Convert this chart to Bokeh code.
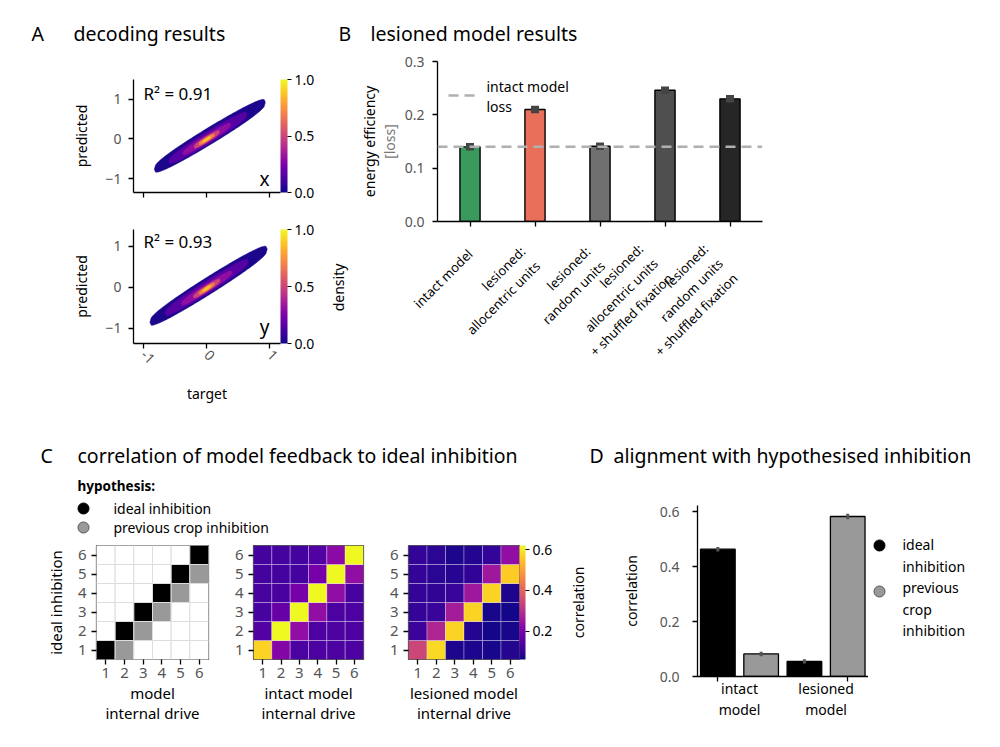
import numpy as np
from math import pi
from bokeh.plotting import figure
from bokeh.models import (Range1d, ColorBar, LinearColorMapper, FixedTicker, Span, LinearAxis,
                          PrintfTickFormatter, ColumnDataSource)
from bokeh.layouts import row, column
from bokeh.palettes import Plasma256
from bokeh.core.properties import value
from bokeh.embed import file_html
from bokeh.resources import INLINE

FONT = "Noto Sans"
TICK_GRAY = "#555555"
TITLE_SIZE = "19.5px"

# ====================== DATA ======================
# Panel A: decoding results (density contours, outer -> inner)
decode_names = ["x", "y"]
decode_r2 = ["R\u00b2 = 0.91", "R\u00b2 = 0.93"]
a_levels = [0.02, 0.15, 0.30, 0.50, 0.70, 0.88]
a_slope = [0.96, 0.96]
a_cx = [[0.05, 0.02, 0.0, 0.0, 0.0, 0.0], [0.03, 0.0, 0.0, 0.0, 0.0, 0.0]]
a_cy = [[0.08, 0.03, 0.0, -0.01, -0.01, -0.01], [0.04, 0.0, -0.02, -0.03, -0.03, -0.03]]
a_half_len = [[0.88, 0.62, 0.38, 0.20, 0.12, 0.06], [0.93, 0.66, 0.40, 0.21, 0.12, 0.06]]
a_half_thick = [[0.23, 0.17, 0.11, 0.08, 0.055, 0.034], [0.23, 0.17, 0.11, 0.08, 0.055, 0.034]]

# Panel B: lesioned model results
b_labels = [["intact model"],
            ["lesioned:", "allocentric units"],
            ["lesioned:", "random units"],
            ["lesioned:", "allocentric units", "+ shuffled fixation"],
            ["lesioned:", "random units", "+ shuffled fixation"]]
b_values = [0.140, 0.210, 0.141, 0.246, 0.230]
b_errors = [0.007, 0.007, 0.007, 0.007, 0.007]
b_colors = ["#3a9a5e", "#e8705a", "#707070", "#4f4f4f", "#262626"]
b_intact_loss = 0.140

# Panel C: correlation matrices; rows = ideal inhibition 1..6, columns = model internal drive 1..6
c_ticks = [1, 2, 3, 4, 5, 6]
hyp_matrix = [  # 2 = ideal inhibition, 1 = previous crop inhibition
    [2, 1, 0, 0, 0, 0],
    [0, 2, 1, 0, 0, 0],
    [0, 0, 2, 1, 0, 0],
    [0, 0, 0, 2, 1, 0],
    [0, 0, 0, 0, 2, 1],
    [0, 0, 0, 0, 0, 2],
]
intact_corr = [
    [0.57, 0.21, 0.13, 0.13, 0.13, 0.13],
    [0.14, 0.62, 0.23, 0.13, 0.13, 0.13],
    [0.125, 0.17, 0.62, 0.23, 0.13, 0.13],
    [0.125, 0.125, 0.19, 0.62, 0.23, 0.125],
    [0.12, 0.12, 0.12, 0.19, 0.62, 0.23],
    [0.12, 0.12, 0.12, 0.14, 0.22, 0.62],
]
lesioned_corr = [
    [0.34, 0.58, 0.075, 0.075, 0.07, 0.08],
    [0.11, 0.28, 0.57, 0.08, 0.065, 0.07],
    [0.10, 0.105, 0.26, 0.57, 0.07, 0.065],
    [0.10, 0.095, 0.105, 0.25, 0.57, 0.075],
    [0.10, 0.09, 0.085, 0.095, 0.25, 0.56],
    [0.10, 0.09, 0.075, 0.08, 0.10, 0.23],
]
c_low, c_high = 0.06, 0.62
hyp_colors = ["white", "#999999", "black"]

# Panel D: alignment with hypothesised inhibition
d_groups = ["intact\nmodel", "lesioned\nmodel"]
d_group_centers = [0.5, 2.5]
d_values = [0.463, 0.082, 0.055, 0.582]
d_errors = [0.008, 0.008, 0.008, 0.010]
d_colors = ["black", "#999999", "black", "#999999"]
d_hyp_labels = [["ideal", "inhibition"], ["previous", "crop", "inhibition"]]
d_hyp_colors = ["black", "#999999"]


# ====================== HELPERS ======================
class Geo:
    def __init__(self, canvas, frame, xr, yr):
        self.cl, self.ct, self.cr, self.cb = canvas
        self.fl, self.ft, self.fr, self.fb = frame
        self.xr, self.yr = xr, yr
        self.w = self.cr - self.cl
        self.h = self.cb - self.ct
        self.ml = self.fl - self.cl
        self.mr = self.cr - self.fr
        self.mt = self.ft - self.ct
        self.mb = self.cb - self.fb

    def x(self, px):
        return self.xr[0] + (px - self.fl) / (self.fr - self.fl) * (self.xr[1] - self.xr[0])

    def y(self, py):
        return self.yr[1] - (py - self.ft) / (self.fb - self.ft) * (self.yr[1] - self.yr[0])


def style_axis(ax, fs="14px"):
    ax.axis_line_color = "black"
    ax.axis_line_width = 1.3
    ax.major_tick_line_color = "black"
    ax.major_tick_line_width = 1.3
    ax.major_tick_in = 0
    ax.major_tick_out = 5
    ax.minor_tick_line_color = None
    ax.major_label_text_font = FONT
    ax.major_label_text_color = TICK_GRAY
    ax.major_label_text_font_size = fs
    ax.axis_label_text_font = FONT
    ax.axis_label_text_font_style = "normal"
    ax.axis_label_text_color = "black"
    ax.axis_label_text_font_size = "14px"


def make_fig(g):
    p = figure(width=g.w, height=g.h, x_range=Range1d(*g.xr), y_range=Range1d(*g.yr),
               output_backend="svg", toolbar_location=None,
               min_border_left=g.ml, min_border_right=g.mr, min_border_top=g.mt,
               min_border_bottom=g.mb)
    p.outline_line_color = None
    p.xgrid.visible = False
    p.ygrid.visible = False
    p.background_fill_color = "white"
    p.border_fill_color = "white"
    for ax in p.axis:
        style_axis(ax)
    return p


def blank_fig(canvas, frame=None):
    """A figure without axes whose data coordinates are page pixels (y downward)."""
    if frame is None:
        frame = canvas
    g = Geo(canvas, frame, (frame[0], frame[2]), (frame[1], frame[3]))
    p = figure(width=g.w, height=g.h, x_range=Range1d(frame[0], frame[2]),
               y_range=Range1d(frame[3], frame[1]),
               output_backend="svg", toolbar_location=None, x_axis_location=None,
               y_axis_location=None, min_border_left=g.ml, min_border_right=g.mr,
               min_border_top=g.mt, min_border_bottom=g.mb)
    p.outline_line_color = None
    p.grid.visible = False
    p.background_fill_color = "white"
    p.border_fill_color = "white"
    return p


def add_text(p, xs, ys, texts, size="14px", color="black", align="left", style="normal",
             angle=0.0, baseline="middle"):
    p.text(x=xs, y=ys, text=texts, text_font=value(FONT), text_font_size=size,
           text_color=color, text_align=align, text_baseline=baseline,
           text_font_style=style, angle=angle)


def gap_axis(p, gap):
    """Invisible right axis that only reserves `gap` pixels between frame and colour bar."""
    ax = LinearAxis(ticker=FixedTicker(ticks=[]), axis_line_color=None,
                    major_tick_line_color=None, minor_tick_line_color=None,
                    major_tick_in=0, major_tick_out=gap, minor_tick_out=0, minor_tick_in=0,
                    major_label_text_font_size="0px", major_label_standoff=0)
    p.add_layout(ax, "right")


# approximate advance widths (em) of Noto Sans, used to right-align lines of the B tick labels
CHAR_W = {" ": 0.26, "+": 0.572, ":": 0.258, "a": 0.561, "c": 0.48, "d": 0.615, "e": 0.564,
          "f": 0.344, "h": 0.618, "i": 0.258, "l": 0.258, "m": 0.938, "n": 0.618, "o": 0.605,
          "r": 0.413, "s": 0.479, "t": 0.361, "u": 0.618, "x": 0.524}


def right_aligned(lines):
    widths = [sum(CHAR_W.get(c, 0.55) for c in ln) for ln in lines]
    wmax = max(widths)
    trail = "\u00a0" * (2 * (len(lines) - 1))
    out = []
    for ln, w in zip(lines, widths):
        out.append("\u00a0" * int(round((wmax - w) / CHAR_W[" "])) + ln + trail)
    return "\n".join(out)


RIGHT = 990
BOTTOM = 744

# ====================== TITLES (top) ======================
pTop = blank_fig((0, 0, RIGHT, 50))
add_text(pTop, [31, 73, 338, 370], [33, 33, 33, 33],
         ["A", "decoding results", "B", "lesioned model results"], size=TITLE_SIZE)

# ====================== PANEL A ======================
plasma_mapper = LinearColorMapper(palette=Plasma256, low=0, high=1)

gA = [Geo((0, 50, 330, 210), (133, 79, 280, 192), (-1.16, 1.17), (-1.35, 1.5)),
      Geo((0, 210, 330, 420), (133, 229, 280, 343), (-1.16, 1.17), (-1.37, 1.41))]
figsA = []
for k in range(2):
    g = gA[k]
    p = make_fig(g)
    xs, ys = [], []
    t = np.linspace(-1, 1, 90)
    for i in range(len(a_levels)):
        cx, cy = a_cx[k][i], a_cy[k][i]
        L, h, m = a_half_len[k][i], a_half_thick[k][i], a_slope[k]
        px = cx + L * t
        mid = cy + m * L * t
        prof = h * np.clip(1 - t ** 2, 0, 1) ** 0.3
        xs.append(np.concatenate([px, px[::-1]]).tolist())
        ys.append(np.concatenate([mid + prof, (mid - prof)[::-1]]).tolist())
    src = ColumnDataSource(dict(xs=xs, ys=ys, level=a_levels))
    p.patches("xs", "ys", source=src,
              fill_color={"field": "level", "transform": plasma_mapper},
              line_color={"field": "level", "transform": plasma_mapper}, line_width=0.5)
    p.xaxis.ticker = FixedTicker(ticks=[-1, 0, 1])
    p.yaxis.ticker = FixedTicker(ticks=[-1, 0, 1])
    p.yaxis.major_label_overrides = {-1: "\u22121", 0: "0", 1: "1"}
    p.yaxis.major_label_standoff = 7
    p.yaxis.axis_label = "predicted"
    p.yaxis.axis_label_standoff = 11
    if k == 0:
        p.xaxis.major_label_text_font_size = "0px"
    else:
        p.xaxis.major_label_orientation = -pi / 4
        p.xaxis.major_label_overrides = {-1: "-1", 0: "0", 1: "1"}
        p.xaxis.major_label_standoff = 4
        p.xaxis.axis_label = "target"
        p.xaxis.axis_label_standoff = 13
    add_text(p, [g.x(143)], [g.y(93 if k == 0 else 241)], [decode_r2[k]], size="17px")
    add_text(p, [g.x(269)], [g.y(178 if k == 0 else 326)], [decode_names[k]], size="19px",
             align="right")
    gap_axis(p, 2)
    cb = ColorBar(color_mapper=plasma_mapper, ticker=FixedTicker(ticks=[0, 0.5, 1]),
                  formatter=PrintfTickFormatter(format="%.1f"), width=7, padding=0, margin=0,
                  major_tick_in=0, major_tick_out=4, major_tick_line_color="black",
                  major_label_text_font=FONT, major_label_text_font_size="14px",
                  major_label_text_color="black", label_standoff=3, bar_line_color=None,
                  border_line_color=None, background_fill_color=None)
    p.add_layout(cb, "right")
    figsA.append(p)

pDensity = blank_fig((330, 50, 350, 420))
add_text(pDensity, [338], [287], ["density"], angle=pi / 2, align="center")

# ====================== PANEL B ======================
gB = Geo((350, 50, RIGHT, 420), (437, 61, 762, 221), (-0.5, 4.5), (0, 0.3))
pB = make_fig(gB)
b_x = list(range(len(b_values)))
pB.vbar(x=b_x, top=b_values, width=0.31, fill_color=b_colors, line_color="black", line_width=1.4)
pB.segment(x0=b_x, y0=[v - e for v, e in zip(b_values, b_errors)],
           x1=b_x, y1=[v + e for v, e in zip(b_values, b_errors)],
           line_width=8, line_color="#444444")
pB.add_layout(Span(location=b_intact_loss, dimension="width", line_color="#b0b0b0",
                   line_width=2.5, line_dash="10 6"))
pB.segment(x0=[gB.x(448)], y0=[gB.y(95)], x1=[gB.x(476)], y1=[gB.y(95)],
           line_color="#b0b0b0", line_width=2.5, line_dash="10 6")
add_text(pB, [gB.x(486)] * 2, [gB.y(86), gB.y(106)], ["intact model", "loss"], size="14px")
pB.yaxis.ticker = FixedTicker(ticks=[0, 0.1, 0.2, 0.3])
pB.yaxis.formatter = PrintfTickFormatter(format="%.1f")
pB.yaxis.major_label_standoff = 8
pB.yaxis.axis_label = "[loss]"
pB.yaxis.axis_label_text_color = "#777777"
pB.yaxis.axis_label_standoff = 3
pB.xaxis.ticker = FixedTicker(ticks=b_x)
pB.xaxis.major_label_overrides = {i: right_aligned(lines) for i, lines in zip(b_x, b_labels)}
pB.xaxis.major_label_orientation = pi / 4
pB.xaxis.major_label_text_color = "black"
pB.xaxis.major_label_text_font_size = "13px"
pB.xaxis.major_label_text_line_height = 1.15
pB.xaxis.major_label_standoff = 25
ax2 = LinearAxis(ticker=FixedTicker(ticks=[]), axis_label="energy efficiency",
                 axis_line_color=None, major_tick_line_color=None, minor_tick_line_color=None,
                 major_label_text_font_size="0px", axis_label_standoff=-2,
                 axis_label_text_font=FONT, axis_label_text_font_size="14px",
                 axis_label_text_font_style="normal", axis_label_text_color="black")
pB.add_layout(ax2, "left")

# ====================== PANEL C ======================
pCt = blank_fig((0, 420, 587, 540))
add_text(pCt, [40], [455], ["C"], size=TITLE_SIZE)
add_text(pCt, [77], [455], ["correlation of model feedback to ideal inhibition"], size=TITLE_SIZE)
add_text(pCt, [77], [485], ["hypothesis:"], size="13.5px", style="bold")
pCt.scatter(x=[83, 83], y=[508, 527], size=11, fill_color=[hyp_colors[2], hyp_colors[1]],
            line_color=["black", "#555555"], line_width=1)
add_text(pCt, [113, 113], [508, 527], ["ideal inhibition", "previous crop inhibition"], size="14px")

corr_mapper = LinearColorMapper(palette=Plasma256, low=c_low, high=c_high)


def heat_source(mat):
    xs, ys, vs = [], [], []
    for i, rowv in enumerate(mat):
        for j, v in enumerate(rowv):
            xs.append(c_ticks[j])
            ys.append(c_ticks[i])
            vs.append(v)
    return xs, ys, vs


gH = [Geo((0, 540, 225, BOTTOM), (96, 545, 208, 659), (0.5, 6.5), (0.5, 6.5)),
      Geo((225, 540, 385, BOTTOM), (253, 545, 363, 659), (0.5, 6.5), (0.5, 6.5)),
      Geo((385, 540, 565, BOTTOM), (408, 545, 519, 659), (0.5, 6.5), (0.5, 6.5))]
h_xlabels = ["model\ninternal drive", "intact model\ninternal drive", "lesioned model\ninternal drive"]
figsC = []
for k in range(3):
    g = gH[k]
    p = make_fig(g)
    if k == 0:
        xs, ys, vs = heat_source(hyp_matrix)
        p.rect(x=xs, y=ys, width=1, height=1, fill_color=[hyp_colors[v] for v in vs],
               line_color="#dddddd", line_width=1)
    else:
        xs, ys, vs = heat_source(intact_corr if k == 1 else lesioned_corr)
        src = ColumnDataSource(dict(x=xs, y=ys, v=vs))
        p.rect(x="x", y="y", width=1, height=1, source=src,
               fill_color={"field": "v", "transform": corr_mapper},
               line_color="white", line_alpha=0.3, line_width=1)
    p.outline_line_color = "#333333"
    p.outline_line_width = 1.2
    for ax in p.axis:
        ax.ticker = FixedTicker(ticks=c_ticks)
        ax.major_label_text_font_size = "15px"
        ax.axis_line_color = None
        ax.axis_label_text_font_size = "15px"
    p.yaxis.major_label_standoff = 5
    p.xaxis.major_label_standoff = 3
    p.xaxis.axis_label = h_xlabels[k]
    p.xaxis.axis_label_standoff = 2
    p.xaxis.axis_label_text_line_height = 1.0
    if k == 0:
        p.yaxis.axis_label = "ideal inhibition"
        p.yaxis.axis_label_standoff = 9
    if k == 2:
        gap_axis(p, 6)
        cb = ColorBar(color_mapper=corr_mapper, ticker=FixedTicker(ticks=[0.2, 0.4, 0.6]),
                      formatter=PrintfTickFormatter(format="%.1f"), width=6, padding=0, margin=0,
                      major_tick_in=0, major_tick_out=4, major_tick_line_color="black",
                      major_label_text_font=FONT, major_label_text_font_size="14px",
                      major_label_text_color="black", label_standoff=3, bar_line_color=None,
                      border_line_color=None, background_fill_color=None)
        p.add_layout(cb, "right")
    figsC.append(p)

# same vertical borders as the heatmaps, so that row alignment leaves its frame unchanged
pCorr = blank_fig((565, 540, 587, BOTTOM), (565, 545, 587, 659))
add_text(pCorr, [578], [602], ["correlation"], angle=pi / 2, align="center")

# ====================== PANEL D ======================
pDt = blank_fig((587, 420, RIGHT, 500))
add_text(pDt, [589], [455], ["D"], size=TITLE_SIZE)
add_text(pDt, [613], [455], ["alignment with hypothesised inhibition"], size=TITLE_SIZE)

gD = Geo((587, 500, 868, BOTTOM), (697, 505, 868, 676), (-0.47, 3.48), (0, 0.622))
pD = make_fig(gD)
d_x = list(range(len(d_values)))
pD.vbar(x=d_x, top=d_values, width=0.8, fill_color=d_colors, line_color="black", line_width=1.3)
pD.segment(x0=d_x, y0=[v - e for v, e in zip(d_values, d_errors)],
           x1=d_x, y1=[v + e for v, e in zip(d_values, d_errors)],
           line_width=3, line_color="#555555")
pD.yaxis.ticker = FixedTicker(ticks=[0, 0.2, 0.4, 0.6])
pD.yaxis.formatter = PrintfTickFormatter(format="%.1f")
pD.yaxis.major_label_standoff = 13
pD.yaxis.axis_label = "correlation"
pD.yaxis.axis_label_standoff = 16
pD.xaxis.ticker = FixedTicker(ticks=[d_x[0], d_x[-1]])
pD.xaxis.major_label_text_font_size = "0px"
pD.xaxis.major_label_standoff = 0
axD2 = LinearAxis(ticker=FixedTicker(ticks=d_group_centers),
                  major_label_overrides={c: lab for c, lab in zip(d_group_centers, d_groups)},
                  axis_line_color=None, major_tick_line_color=None, minor_tick_line_color=None,
                  major_tick_out=0, major_tick_in=0,
                  major_label_standoff=-3, major_label_text_font=FONT,
                  major_label_text_font_size="14px", major_label_text_color="black",
                  major_label_text_line_height=1.12)
pD.add_layout(axD2, "below")

# same vertical borders as panel D's plot, so that row alignment leaves its frame unchanged
pDl = blank_fig((868, 500, RIGHT, BOTTOM), (868, 505, RIGHT, 676))
pDl.scatter(x=[879, 879], y=[545, 591], size=11, fill_color=d_hyp_colors,
            line_color=["black", "#555555"], line_width=1)
line_y0 = [544, 587]
hx, hy, ht = [], [], []
for hi, lines in enumerate(d_hyp_labels):
    for li, line in enumerate(lines):
        hx.append(902)
        hy.append(line_y0[hi] + 21.5 * li)
        ht.append(line)
add_text(pDl, hx, hy, ht, size="14px")

# ====================== LAYOUT ======================
top = column(pTop, row(column(figsA[0], figsA[1]), column(pDensity), column(pB)))
bottom = row(column(pCt, row(figsC[0], figsC[1], figsC[2], pCorr)),
             column(pDt, row(pD, pDl)))
layout = column(top, bottom)

open("out.html", "w").write(file_html(layout, INLINE))
